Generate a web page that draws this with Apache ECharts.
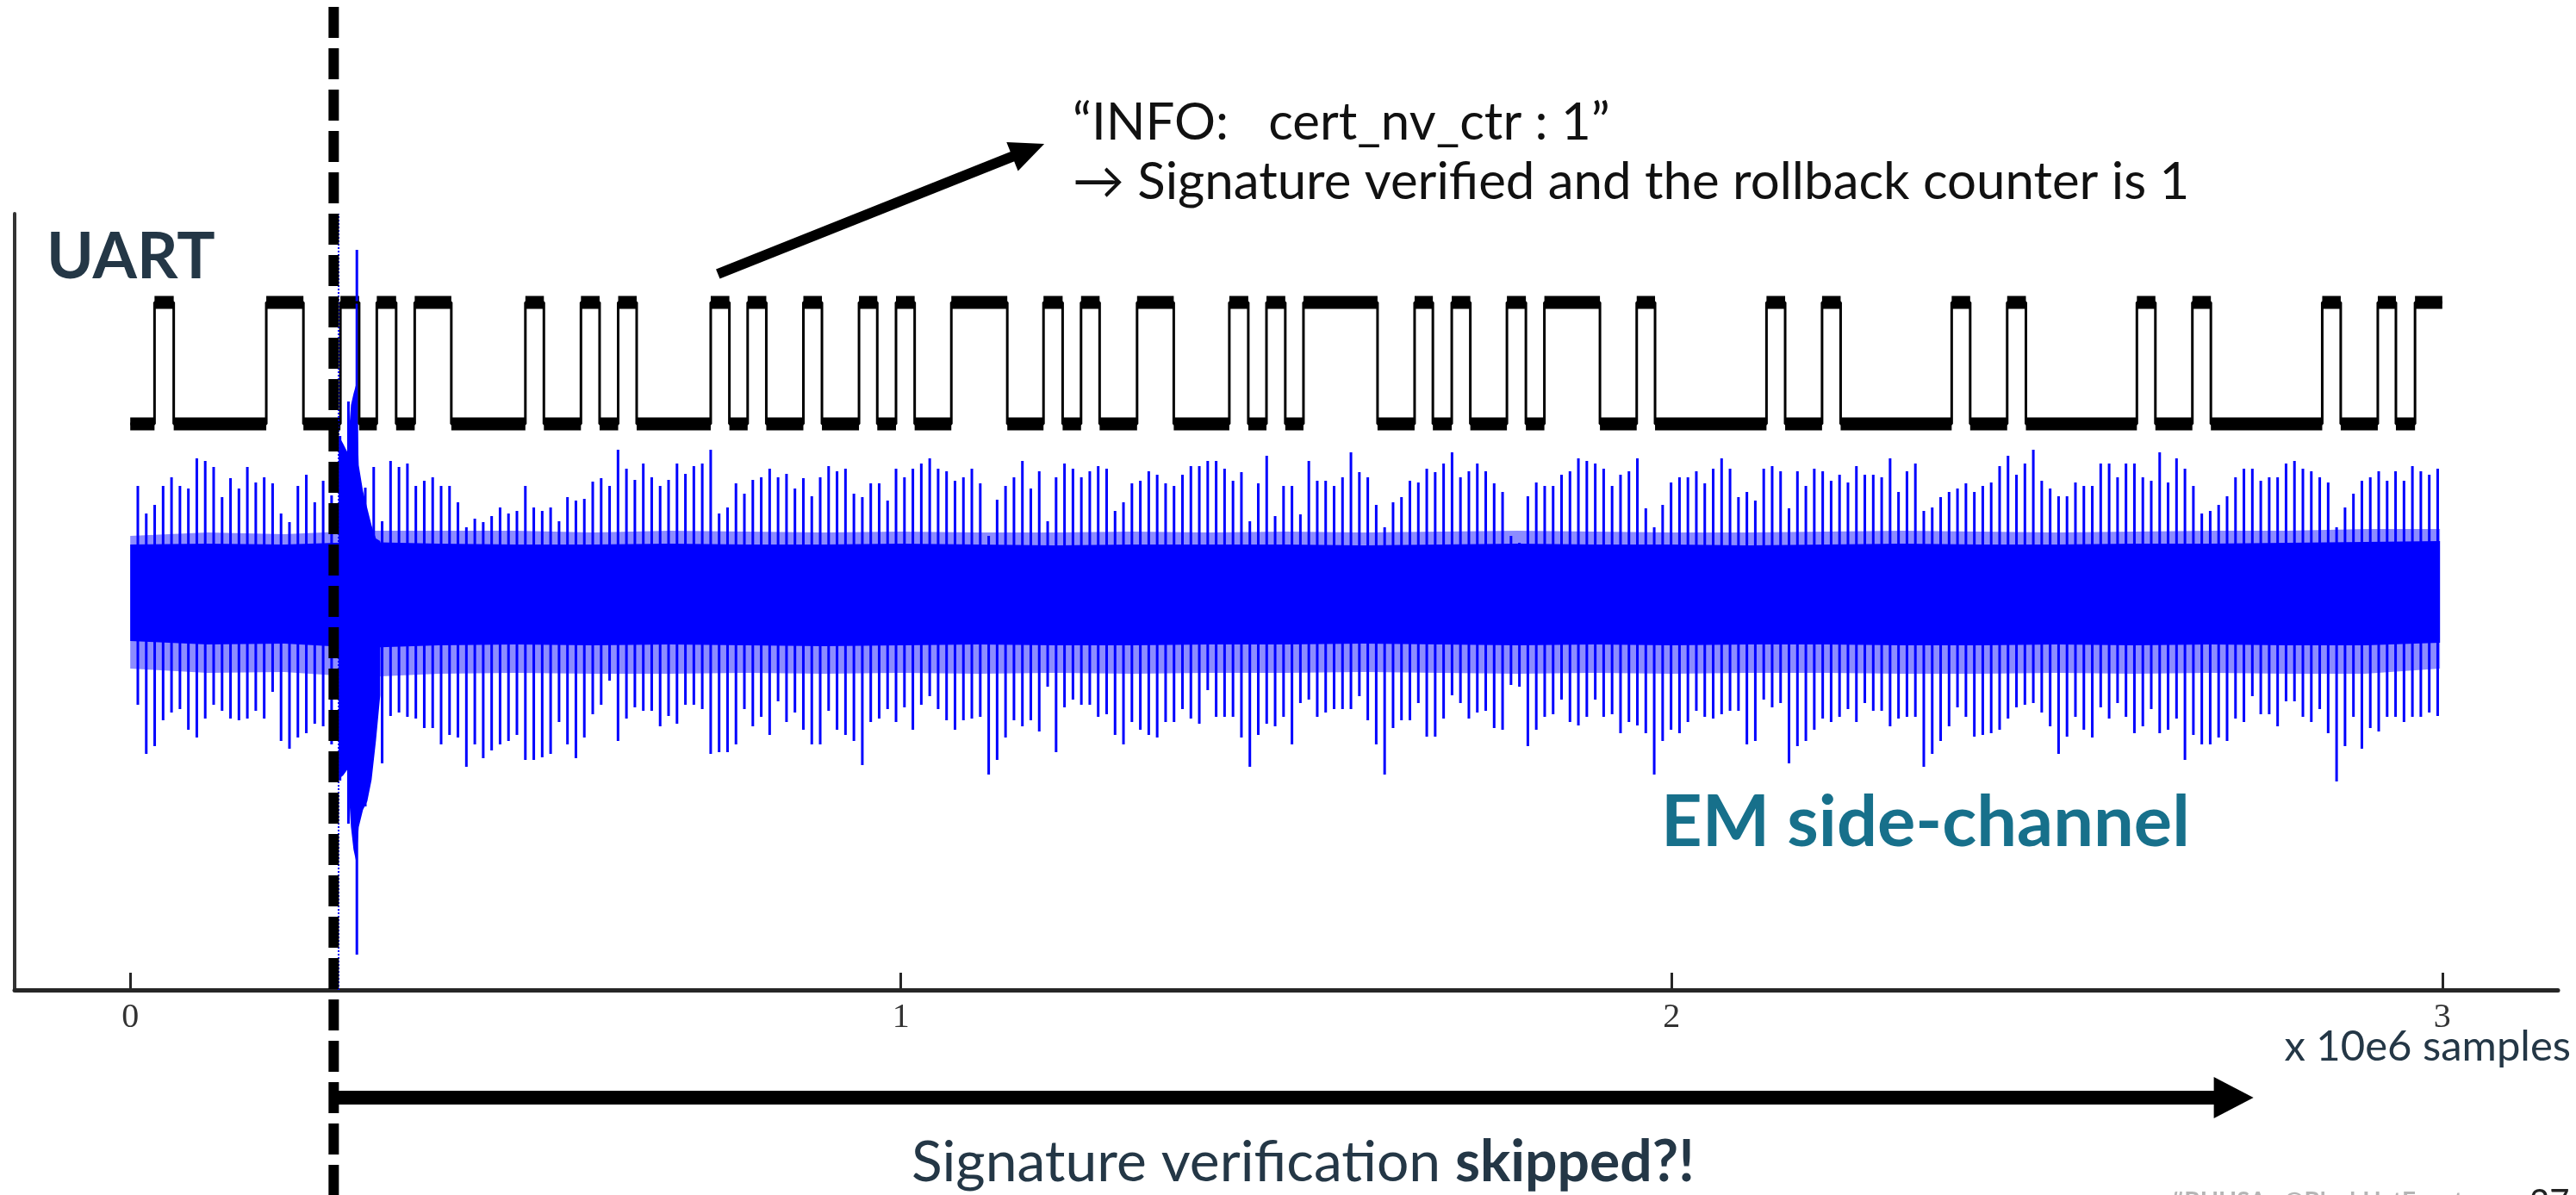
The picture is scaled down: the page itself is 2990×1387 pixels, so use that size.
<!DOCTYPE html>
<html>
<head>
<meta charset="utf-8">
<script src="https://cdn.jsdelivr.net/npm/echarts@6/dist/echarts.min.js"></script>
<style>
  html, body { margin: 0; padding: 0; background: #fff; }
  #main { width: 2990px; height: 1387px; }
</style>
</head>
<body>
<div id="main"></div>
<script>
// x axis unit: x 10e6 samples
const xTicks = [0, 1, 2, 3]

// UART line: toggles at these instants, starting low
const uartEdges = [
  0.0315, 0.0564, 0.1765, 0.2247, 0.2727, 0.2970, 0.3199, 0.3450, 0.3691, 0.4166,
  0.5127, 0.5367, 0.5848, 0.6090, 0.6331, 0.6571, 0.7532, 0.7774, 0.8011, 0.8253,
  0.8734, 0.8975, 0.9456, 0.9693, 0.9936, 1.0178, 1.0654, 1.1380, 1.1850, 1.2098,
  1.2337, 1.2578, 1.3064, 1.3540, 1.4261, 1.4507, 1.4743, 1.4987, 1.5223, 1.6184,
  1.6665, 1.6902, 1.7147, 1.7388, 1.7863, 1.8109, 1.8349, 1.9070, 1.9547, 1.9785,
  2.1231, 2.1473, 2.1952, 2.2193, 2.3634, 2.3874, 2.4354, 2.4597, 2.6037, 2.6277,
  2.6757, 2.6997, 2.8442, 2.8682, 2.9163, 2.9398, 2.9646
]
const uartEnd = 3.0
const uartLow = 1.94
const uartHigh = 3.35
const uartNoise = 0.075

// EM trace: periodic spikes (first spike, spacing), top and bottom of each
const emStart = 0.00984
const emPeriod = 0.010931
const emUp = [
  1.22, 0.90, 1.00, 1.22, 1.32, 1.22, 1.19, 1.54, 1.51, 1.44,
  1.09, 1.31, 1.19, 1.44, 1.26, 1.32, 1.25, 0.90, 0.80, 1.22,
  1.35, 1.03, 1.28, 1.11, 1.80, 2.20, 3.96, 1.20, 1.44, 0.81,
  1.51, 1.44, 1.48, 1.22, 1.28, 1.32, 1.22, 1.22, 1.03, 0.74,
  0.84, 0.80, 0.87, 0.97, 0.90, 0.93, 1.22, 0.97, 0.93, 0.97,
  0.81, 1.09, 1.05, 1.07,
  1.27, 1.31, 1.22, 1.64, 1.42, 1.29, 1.48, 1.32, 1.22, 1.29,
  1.48, 1.36, 1.45, 1.48, 1.64, 0.90, 0.97, 1.25, 1.13, 1.29,
  1.32, 1.42, 1.32, 1.36, 1.19, 1.31, 1.10, 1.32, 1.45, 1.39,
  1.42, 1.13, 1.09, 1.25, 1.25, 1.05, 1.42, 1.32, 1.42, 1.48,
  1.54, 1.42, 1.39, 1.28, 1.32, 1.42, 1.25, 0.64, 1.06, 1.22,
  1.32, 1.51, 1.19, 1.39, 0.81,
  1.32, 1.48, 1.42, 1.32, 1.39, 1.45, 1.42, 0.93, 1.03, 1.25,
  1.28, 1.39, 1.35, 1.25, 1.22, 1.35, 1.45, 1.45, 1.51, 1.51,
  1.42, 1.28, 1.38, 0.81, 1.25, 1.57, 0.87, 1.22, 1.22, 0.89,
  1.51, 1.28, 1.28, 1.22, 1.32, 1.61, 1.38, 1.32, 1.00, 0.74,
  1.03, 1.09, 1.28, 1.26, 1.42, 1.38, 1.48, 1.61, 1.32, 1.39,
  1.48, 1.39, 1.25, 1.15, 0.64,
  0.56, 1.10, 1.26, 1.22, 1.22, 1.35, 1.39, 1.54, 1.51, 1.48,
  1.42, 1.22, 1.35, 1.39, 1.54, 0.96, 0.74, 1.00, 1.26, 1.32,
  1.32, 1.39, 1.25, 1.42, 1.54, 1.42, 1.09, 1.15, 1.05, 1.42,
  1.45, 1.39, 0.96, 1.39, 1.22, 1.42, 1.39, 1.28, 1.35, 1.26,
  1.45, 1.35, 1.35, 1.32, 1.54, 1.15, 1.39, 1.48, 0.93, 0.97,
  1.09, 1.15, 1.19, 1.25, 1.15,
  1.22, 1.26, 1.45, 1.57, 1.35, 1.48, 1.64, 1.28, 1.19, 1.10,
  1.10, 1.26, 1.22, 1.22, 1.48, 1.48, 1.32, 1.48, 1.48, 1.32,
  1.28, 1.61, 1.26, 1.54, 1.42, 1.22, 0.90, 0.93, 1.00, 1.10,
  1.32, 1.42, 1.42, 1.28, 1.32, 1.32, 1.48, 1.51, 1.42, 1.39,
  1.32, 1.26, 0.74, 0.97, 1.13, 1.28, 1.32, 1.39, 1.28, 1.39,
  1.28, 1.45, 1.39, 1.35, 1.42
]
const emDown = [
  -1.32, -1.89, -1.80, -1.50, -1.41, -1.37, -1.61, -1.70, -1.48, -1.32,
  -1.39, -1.48, -1.50, -1.48, -1.39, -1.48, -1.17, -1.74, -1.83, -1.70,
  -1.65, -1.54, -1.57, -1.78, -2.20, -2.70, -4.22, -2.50, -1.61, -2.00,
  -1.45, -1.41, -1.46, -1.48, -1.59, -1.59, -1.78, -1.67, -1.70, -2.04,
  -1.78, -1.94, -1.85, -1.78, -1.74, -1.67, -1.96, -1.96, -1.93, -1.89,
  -1.52, -1.78, -1.94, -1.70,
  -1.43, -1.32, -1.04, -1.74, -1.48, -1.35, -1.39, -1.39, -1.57, -1.45,
  -1.54, -1.32, -1.32, -1.37, -1.89, -1.87, -1.87, -1.78, -1.37, -1.57,
  -1.46, -1.67, -1.28, -1.52, -1.41, -1.61, -1.78, -1.78, -1.39, -1.61,
  -1.67, -1.74, -2.02, -1.52, -1.48, -1.37, -1.52, -1.35, -1.61, -1.32,
  -1.22, -1.37, -1.50, -1.61, -1.50, -1.48, -1.46, -2.13, -1.96, -1.70,
  -1.50, -1.57, -1.50, -1.63, -1.11,
  -1.87, -1.35, -1.26, -1.32, -1.32, -1.46, -1.43, -1.67, -1.78, -1.52,
  -1.61, -1.67, -1.70, -1.52, -1.52, -1.37, -1.48, -1.54, -1.15, -1.46,
  -1.46, -1.46, -1.70, -2.04, -1.67, -1.54, -1.57, -1.46, -1.78, -1.30,
  -1.26, -1.46, -1.41, -1.37, -1.37, -1.37, -1.22, -1.50, -1.78, -2.13,
  -1.59, -1.50, -1.50, -1.30, -1.69, -1.69, -1.48, -1.21, -1.30, -1.48,
  -1.41, -1.39, -1.59, -1.61, -1.09,
  -1.11, -1.80, -1.61, -1.46, -1.43, -1.26, -1.52, -1.56, -1.46, -1.26,
  -1.46, -1.43, -1.65, -1.52, -1.56, -1.65, -2.13, -1.74, -1.61, -1.65,
  -1.52, -1.39, -1.46, -1.48, -1.43, -1.39, -1.39, -1.78, -1.74, -1.26,
  -1.35, -1.30, -2.00, -1.80, -1.74, -1.61, -1.48, -1.52, -1.46, -1.37,
  -1.52, -1.30, -1.39, -1.39, -1.57, -1.48, -1.46, -1.46, -2.04, -1.89,
  -1.74, -1.57, -1.35, -1.46, -1.69,
  -1.67, -1.65, -1.61, -1.48, -1.35, -1.32, -1.30, -1.41, -1.57, -1.89,
  -1.69, -1.46, -1.61, -1.70, -1.35, -1.48, -1.30, -1.46, -1.65, -1.57,
  -1.37, -1.65, -1.61, -1.48, -1.96, -1.67, -1.78, -1.78, -1.70, -1.74,
  -1.48, -1.52, -1.22, -1.43, -1.43, -1.57, -1.28, -1.28, -1.46, -1.52,
  -1.37, -1.65, -2.21, -1.80, -1.46, -1.83, -1.59, -1.63, -1.46, -1.46,
  -1.52, -1.46, -1.46, -1.41, -1.45
]

// dense noise band of the EM trace (solid core and sparser fringe)
const bandX = [0, 0.1, 0.2, 0.3, 0.4, 0.5, 0.6, 0.7, 0.8, 0.9, 1.0, 1.1, 1.2, 1.3, 1.4, 1.5,
  1.6, 1.7, 1.8, 1.9, 2.0, 2.1, 2.2, 2.3, 2.4, 2.5, 2.6, 2.7, 2.8, 2.9, 2.997]
const bandHi = [0.54, 0.55, 0.54, 0.57, 0.55, 0.54, 0.54, 0.55, 0.54, 0.54, 0.55, 0.54, 0.53, 0.54, 0.54, 0.54,
  0.53, 0.54, 0.55, 0.54, 0.54, 0.53, 0.54, 0.55, 0.54, 0.54, 0.55, 0.55, 0.56, 0.57, 0.58]
const bandLo = [-0.58, -0.62, -0.61, -0.66, -0.63, -0.62, -0.63, -0.62, -0.63, -0.64, -0.63, -0.62, -0.63, -0.63, -0.62, -0.62,
  -0.61, -0.62, -0.63, -0.62, -0.63, -0.62, -0.62, -0.63, -0.63, -0.62, -0.63, -0.62, -0.63, -0.63, -0.60]
const fringeHi = [0.64, 0.68, 0.66, 0.70, 0.70, 0.70, 0.68, 0.70, 0.69, 0.68, 0.69, 0.68, 0.68, 0.69, 0.68, 0.69,
  0.68, 0.69, 0.70, 0.69, 0.68, 0.68, 0.69, 0.70, 0.69, 0.68, 0.69, 0.70, 0.70, 0.72, 0.72]
const fringeLo = [-0.90, -0.95, -0.94, -1.00, -0.96, -0.95, -0.96, -0.96, -0.95, -0.96, -0.95, -0.96, -0.95, -0.96, -0.95, -0.95,
  -0.94, -0.95, -0.96, -0.95, -0.96, -0.95, -0.95, -0.96, -0.96, -0.95, -0.96, -0.95, -0.96, -0.96, -0.90]

// glitch burst right after the fault
const burstX = [0.2707, 0.2763, 0.2819, 0.2864, 0.2897, 0.2931, 0.2965, 0.3020, 0.3076, 0.3132, 0.3188, 0.3244]
const burstHi = [1.80, 1.71, 1.61, 2.16, 2.29, 2.40, 1.46, 1.16, 0.96, 0.76, 0.61, 0.58]
const burstLo = [-2.18, -2.14, -2.07, -2.74, -3.00, -3.14, -2.74, -2.54, -2.44, -2.19, -1.74, -1.21]

const faultX = 0.264
const triggerX = 0.273

const BLUE = '#0000ff'
const NAVY = '#243746'

const chart = echarts.init(document.getElementById('main'))

// uart step line and noisy levels
const uartLine = [[0, uartLow]]
const uartSegs = []
let lvl = uartLow
let t0 = 0
uartEdges.forEach(t => {
  uartSegs.push([t0, t, lvl])
  lvl = lvl === uartLow ? uartHigh : uartLow
  uartLine.push([t, lvl])
  t0 = t
})
uartSegs.push([t0, uartEnd, lvl])
uartLine.push([uartEnd, lvl])

const spikes = emUp.map((u, i) => [emStart + emPeriod * i, u, emDown[i]])

function bandSeries(xs, his, los, color, opacity) {
  return {
    type: 'custom',
    silent: true,
    data: [[xs[0], his[0]]],
    renderItem(params, api) {
      const pts = []
      xs.forEach((x, i) => pts.push(api.coord([x, his[i]])))
      for (let i = xs.length - 1; i >= 0; i--) pts.push(api.coord([xs[i], los[i]]))
      return { type: 'polygon', shape: { points: pts }, style: { fill: color, opacity: opacity } }
    }
  }
}

chart.setOption({
  animation: false,
  backgroundColor: '#fff',
  grid: { left: 17, right: 21, top: 248, bottom: 238 },
  xAxis: {
    type: 'value',
    min: -0.15,
    max: 3.15,
    axisLine: { onZero: false, lineStyle: { color: '#262626', width: 5 } },
    axisTick: { show: true, inside: true, length: 20, customValues: xTicks, lineStyle: { color: '#262626', width: 3 } },
    axisLabel: { customValues: xTicks, margin: 12, fontFamily: 'Liberation Serif', fontSize: 40, color: '#333' },
    splitLine: { show: false }
  },
  yAxis: {
    type: 'value',
    min: -4.63,
    max: 4.38,
    axisLine: { show: true, onZero: false, lineStyle: { color: '#333', width: 4 } },
    axisTick: { show: false },
    axisLabel: { show: false },
    splitLine: { show: false }
  },
  series: [
    {
      // noisy UART levels
      type: 'custom',
      silent: true,
      data: uartSegs,
      renderItem(params, api) {
        const a = api.coord([api.value(0), api.value(2) + uartNoise])
        const b = api.coord([api.value(1), api.value(2) - uartNoise])
        return { type: 'rect', shape: { x: a[0], y: a[1], width: b[0] - a[0], height: b[1] - a[1] }, style: { fill: '#000' } }
      }
    },
    {
      type: 'line',
      step: 'end',
      data: uartLine,
      symbol: 'none',
      silent: true,
      lineStyle: { color: '#000', width: 3 },
      markLine: {
        silent: true,
        symbol: 'none',
        label: { show: false },
        lineStyle: { color: BLUE, type: 'dotted', width: 2 },
        data: [{ xAxis: triggerX }]
      }
    },
    bandSeries(bandX, fringeHi, fringeLo, BLUE, 0.45),
    bandSeries(bandX, bandHi, bandLo, BLUE, 1),
    {
      type: 'custom',
      silent: true,
      data: spikes,
      renderItem(params, api) {
        const p1 = api.coord([api.value(0), api.value(1)])
        const p2 = api.coord([api.value(0), api.value(2)])
        return { type: 'line', shape: { x1: p1[0], y1: p1[1], x2: p2[0], y2: p2[1] }, style: { stroke: BLUE, lineWidth: 3 } }
      }
    },
    bandSeries(burstX, burstHi, burstLo, BLUE, 1)
  ]
})

// annotations placed through the chart scales
const px = p => chart.convertToPixel({ gridIndex: 0 }, p)

function arrow(p0, p1, w, headLen, headW) {
  const dx = p1[0] - p0[0], dy = p1[1] - p0[1]
  const L = Math.hypot(dx, dy)
  const ux = dx / L, uy = dy / L
  const bx = p1[0] - ux * headLen, by = p1[1] - uy * headLen
  const nx = -uy, ny = ux
  return [
    { type: 'line', z: 100, shape: { x1: p0[0], y1: p0[1], x2: bx + ux, y2: by + uy }, style: { stroke: '#000', lineWidth: w } },
    { type: 'polygon', z: 100, shape: { points: [[p1[0], p1[1]], [bx + nx * headW / 2, by + ny * headW / 2], [bx - nx * headW / 2, by - ny * headW / 2]] }, style: { fill: '#000' } }
  ]
}

const fx = px([faultX, 0])[0]
const graphics = [
  { type: 'line', z: 100, shape: { x1: fx, y1: 0, x2: fx, y2: 1387 }, style: { stroke: '#000', lineWidth: 12, lineDash: [36, 12], lineDashOffset: 40 } },
  ...arrow([fx, px([0, -5.88])[1]], px([2.755, -5.88]), 16, 46, 48),
  ...arrow(px([0.7625, 3.68]), px([1.186, 5.19]), 12, 40, 36),
  { type: 'text', z: 100, x: 54, y: 299, style: { text: 'UART', font: 'bold 74px Lato', fill: NAVY, align: 'left', verticalAlign: 'middle' } },
  { type: 'text', z: 100, x: 1928, y: 955, style: { text: 'EM side-channel', font: 'bold 83px Lato', fill: '#17708b', align: 'left', verticalAlign: 'middle' } },
  { type: 'text', z: 100, x: 1245, y: 143, style: { text: '\u201cINFO:   cert_nv_ctr : 1\u201d', font: '60px Lato', fill: '#111', align: 'left', verticalAlign: 'middle' } },
  { type: 'text', z: 100, x: 1245, y: 212, style: { text: '\u2192 Signature verified and the rollback counter is 1', font: '60px Lato', fill: '#111', align: 'left', verticalAlign: 'middle' } },
  { type: 'text', z: 100, x: 2984, y: 1215, style: { text: 'x 10e6 samples', font: '49px Lato', fill: NAVY, align: 'right', verticalAlign: 'middle' } },
  {
    type: 'text', z: 100, x: 1058, y: 1350,
    style: {
      text: '{a|Signature verification }{b|skipped?!}',
      align: 'left', verticalAlign: 'middle',
      rich: {
        a: { font: '66px Lato', fill: NAVY },
        b: { font: 'bold 66px Lato', fill: NAVY }
      }
    }
  },
  { type: 'text', z: 100, x: 2519, y: 1381, style: { text: '#BHUSA   @BlackHatEvents', font: 'bold 28px Lato', fill: '#b5b5b5', align: 'left', verticalAlign: 'top' } },
  { type: 'text', z: 100, x: 2936, y: 1376, style: { text: '27', font: '40px Lato', fill: '#222', align: 'left', verticalAlign: 'top' } }
]
chart.setOption({ graphic: graphics })
</script>
</body>
</html>
